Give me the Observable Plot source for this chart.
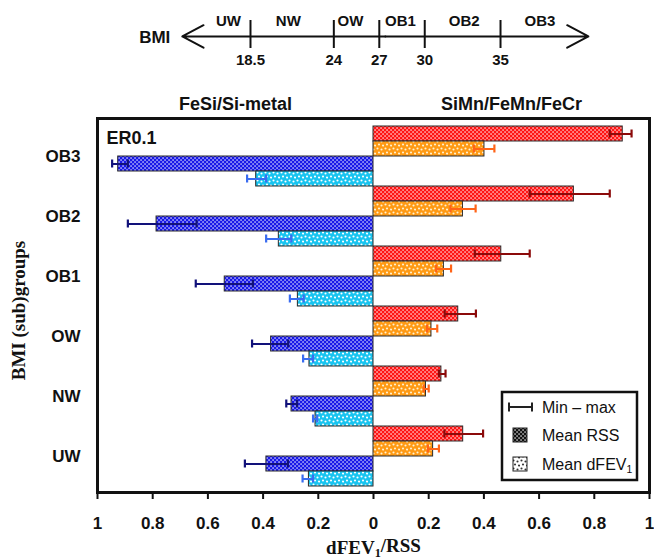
<!DOCTYPE html>
<html><head><meta charset="utf-8">
<script src="https://cdn.jsdelivr.net/npm/d3@7"></script>
<script src="https://cdn.jsdelivr.net/npm/@observablehq/plot@0.6"></script>
<style>
html,body{margin:0;padding:0;background:#fff;overflow:hidden;}
#chart svg{display:block;}
</style></head><body><div id="chart"></div>
<script>
// ---------- BMI schematic ----------
const bmiCuts = [18.5, 24, 27, 30, 35];
const bmiClasses = ["UW", "NW", "OW", "OB1", "OB2", "OB3"];
const bmiLabelAt = [17.05, 21.0, 25.1, 28.4, 32.6, 37.6];
const bmiAxisEnds = [14, 40.8];

// ---------- main chart ----------
const groups = ["OB3", "OB2", "OB1", "OW", "NW", "UW"];
const panels = ["FeSi/Si-metal", "SiMn/FeMn/FeCr"];
const xTicks = [-1, -0.8, -0.6, -0.4, -0.2, 0, 0.2, 0.4, 0.6, 0.8, 1];

// FeSi/Si-metal (drawn to the left)
const feRssMean = [0.925, 0.786, 0.539, 0.371, 0.297, 0.388];
const feRssMin  = [0.890, 0.641, 0.437, 0.309, 0.277, 0.310];
const feRssMax  = [0.947, 0.890, 0.644, 0.440, 0.316, 0.466];
const feFevMean = [0.425, 0.343, 0.274, 0.232, 0.210, 0.234];
const feFevMin  = [0.389, 0.298, 0.253, 0.219, 0.204, 0.219];
const feFevMax  = [0.458, 0.389, 0.303, 0.255, 0.219, 0.257];
// SiMn/FeMn/FeCr (drawn to the right)
const siRssMean = [0.903, 0.726, 0.463, 0.307, 0.246, 0.325];
const siRssMin  = [0.856, 0.566, 0.367, 0.258, 0.237, 0.257];
const siRssMax  = [0.935, 0.856, 0.566, 0.371, 0.261, 0.397];
const siFevMean = [0.402, 0.324, 0.255, 0.210, 0.190, 0.216];
const siFevMin  = [0.364, 0.279, 0.227, 0.194, 0.182, 0.197];
const siFevMax  = [0.438, 0.370, 0.281, 0.231, 0.200, 0.237];

const series = [
  {id: "sr", sign: 1,  mean: siRssMean, min: siRssMin, max: siRssMax, base: "#ff1414", dot: "#ffffff", kind: "dense",  err: "#8b0a0a"},
  {id: "so", sign: 1,  mean: siFevMean, min: siFevMin, max: siFevMax, base: "#ff9a14", dot: "#fff2d0", kind: "sparse", err: "#ff6418"},
  {id: "fr", sign: -1, mean: feRssMean, min: feRssMin, max: feRssMax, base: "#1818e8", dot: "#ffffff", kind: "dense",  err: "#12127a"},
  {id: "fc", sign: -1, mean: feFevMean, min: feFevMin, max: feFevMax, base: "#18c4f0", dot: "#ffffff", kind: "sparse", err: "#3a6cf0"}
];

const rows = series.flatMap(s => groups.map((g, i) => ({
  key: g + "|" + s.id, group: g, series: s.id,
  value: s.sign * s.mean[i], lo: s.sign * s.min[i], hi: s.sign * s.max[i]
})));
const yDomain = groups.flatMap(g => series.map(s => g + "|" + s.id));
const labelKeys = groups.map(g => g + "|so");

const root = document.getElementById("chart");

// ---------- top schematic plot ----------
const bmiPlot = Plot.plot({
  width: 654, height: 75,
  marginLeft: 181.8, marginRight: 66.1, marginTop: 20, marginBottom: 27,
  x: {domain: bmiAxisEnds, axis: null},
  y: {domain: [0, 1], axis: null},
  style: {fontFamily: "'Liberation Sans', Arial, sans-serif", color: "#111", background: "#fff"},
  marks: [
    Plot.arrow(bmiAxisEnds, {x1: d => (bmiAxisEnds[0] + bmiAxisEnds[1]) / 2, x2: d => d, y1: 0.43, y2: 0.43,
      stroke: "#111", strokeWidth: 2, headLength: 18, headAngle: 56}),
    Plot.tickX(bmiCuts, {x: d => d, stroke: "#111", strokeWidth: 2}),
    Plot.text(bmiClasses, {x: (d, i) => bmiLabelAt[i], text: d => d, frameAnchor: "middle", lineAnchor: "middle",
      dy: -13.3, fontSize: 15, fontWeight: "bold", fill: "#111"}),
    Plot.text(bmiCuts, {x: d => d, text: d => String(d), frameAnchor: "middle", lineAnchor: "middle",
      dy: 26, fontSize: 15, fontWeight: "bold", fill: "#111"}),
    Plot.text(["BMI"], {frameAnchor: "left", textAnchor: "end", lineAnchor: "middle", dx: -12, dy: 3.3,
      fontSize: 17, fontWeight: "bold", fill: "#111"})
  ]
});
root.appendChild(bmiPlot);

// ---------- main plot ----------
const barMarks = series.map(s =>
  Plot.barX(rows.filter(r => r.series === s.id),
    {x1: () => 0, x2: "value", y: "key", fill: `url(#pat-${s.id})`, stroke: "#2a2a2a", strokeWidth: 1}));
const errMarks = series.flatMap(s => {
  const d = rows.filter(r => r.series === s.id);
  return [
    Plot.ruleY(d, {y: "key", x1: "lo", x2: "hi", stroke: s.err, strokeWidth: 2}),
    Plot.tickX(d, {x: "lo", y: "key", stroke: s.err, strokeWidth: 2.2, insetTop: 3.5, insetBottom: 3.5}),
    Plot.tickX(d, {x: "hi", y: "key", stroke: s.err, strokeWidth: 2.2, insetTop: 3.5, insetBottom: 3.5})
  ];
});

const main = Plot.plot({
  width: 654, height: 484,
  marginLeft: 97, marginRight: 5, marginTop: 43, marginBottom: 67,
  x: {domain: [-1, 1]},
  y: {type: "band", domain: yDomain, padding: 0, insetTop: 2},
  style: {fontFamily: "'Liberation Sans', Arial, sans-serif", color: "#111", background: "#fff"},
  marks: [
    ...barMarks,
    ...errMarks,
    Plot.frame({stroke: "#111", strokeWidth: 3}),
    Plot.axisX({ticks: xTicks, tickFormat: d => String(Math.abs(d)), tickSize: 7, tickPadding: 17,
      fontSize: 17, fontWeight: "bold", strokeWidth: 2, label: null}),
    Plot.axisY({ticks: labelKeys, tickFormat: k => k.split("|")[0], tickSize: 0, tickPadding: 17,
      dy: 7.75, fontSize: 17, fontWeight: "bold", label: null}),
    Plot.text(panels, {x: (d, i) => (i === 0 ? -0.5 : 0.5), text: d => d, frameAnchor: "top", lineAnchor: "middle",
      dy: -14.5, fontSize: 18, fontWeight: "bold", fill: "#111"}),
    Plot.text(["ER0.1"], {frameAnchor: "top-left", textAnchor: "start", lineAnchor: "middle", dx: 9, dy: 20,
      fontSize: 18, fontWeight: "bold", fill: "#111"}),
    Plot.text(["dFEV1/RSS"], {frameAnchor: "bottom", lineAnchor: "middle", dy: 55,
      fontFamily: "'Liberation Serif', 'Times New Roman', serif", fontSize: 19, fontWeight: "bold", fill: "#111"}),
    Plot.text(["BMI (sub)groups"], {frameAnchor: "left", rotate: -90, textAnchor: "middle", lineAnchor: "middle",
      dx: -79, dy: 5, fontFamily: "'Liberation Serif', 'Times New Roman', serif", fontSize: 19, fontWeight: "bold", fill: "#111"})
  ]
});
root.appendChild(main);

// ---------- patterns ----------
const svg = d3.select(main);
const defs = svg.insert("defs", ":first-child");
function addPattern(id, base, dot, kind) {
  const p = defs.append("pattern").attr("id", id).attr("patternUnits", "userSpaceOnUse");
  if (kind === "dense") {
    p.attr("width", 4).attr("height", 4);
    p.append("rect").attr("width", 4).attr("height", 4).attr("fill", base);
    p.append("rect").attr("x", 0.4).attr("y", 0.4).attr("width", 1.3).attr("height", 1.3).attr("fill", dot);
    p.append("rect").attr("x", 2.4).attr("y", 2.4).attr("width", 1.3).attr("height", 1.3).attr("fill", dot);
  } else {
    p.attr("width", 8).attr("height", 8);
    p.append("rect").attr("width", 8).attr("height", 8).attr("fill", base);
    [[1.5, 1.5], [5.5, 2.5], [3, 5.5], [7, 6.5]].forEach(([cx, cy]) =>
      p.append("circle").attr("cx", cx).attr("cy", cy).attr("r", 1.05).attr("fill", dot));
  }
}
series.forEach(s => addPattern("pat-" + s.id, s.base, s.dot, s.kind));
addPattern("pat-legRss", "#111", "#ffffff", "dense");
addPattern("pat-legFev", "#ffffff", "#333333", "sparse");

// subscript in axis title
svg.selectAll("text").filter(function () { return this.textContent === "dFEV1/RSS"; }).each(function () {
  const t = d3.select(this).text("");
  t.append("tspan").text("dFEV");
  t.append("tspan").attr("font-size", "0.65em").attr("dy", "0.25em").text("1");
  t.append("tspan").attr("dy", "-0.25em").text("/RSS");
});

// ---------- legend ----------
const lg = svg.append("g").attr("font-family", "'Liberation Sans', Arial, sans-serif").attr("font-size", 16)
  .attr("fill", "#111").attr("text-anchor", "start");
lg.append("rect").attr("x", 502).attr("y", 317).attr("width", 135).attr("height", 88)
  .attr("fill", "#fff").attr("stroke", "#111").attr("stroke-width", 2.5);
const ey = 332;
lg.append("line").attr("x1", 509).attr("x2", 532).attr("y1", ey).attr("y2", ey).attr("stroke", "#222").attr("stroke-width", 2);
[509, 532].forEach(x => lg.append("line").attr("x1", x).attr("x2", x).attr("y1", ey - 4.5).attr("y2", ey + 4.5)
  .attr("stroke", "#222").attr("stroke-width", 2));
lg.append("text").attr("x", 542).attr("y", ey).attr("dy", "0.35em").text("Min – max");
lg.append("rect").attr("x", 513).attr("y", 353).attr("width", 14).attr("height", 14)
  .attr("fill", "url(#pat-legRss)").attr("stroke", "#222");
lg.append("text").attr("x", 542).attr("y", 360).attr("dy", "0.35em").text("Mean RSS");
lg.append("rect").attr("x", 513).attr("y", 382).attr("width", 14).attr("height", 14)
  .attr("fill", "url(#pat-legFev)").attr("stroke", "#222");
const lt = lg.append("text").attr("x", 542).attr("y", 389).attr("dy", "0.35em");
lt.append("tspan").text("Mean dFEV");
lt.append("tspan").attr("font-size", "0.65em").attr("dy", "0.3em").text("1");
</script></body></html>
